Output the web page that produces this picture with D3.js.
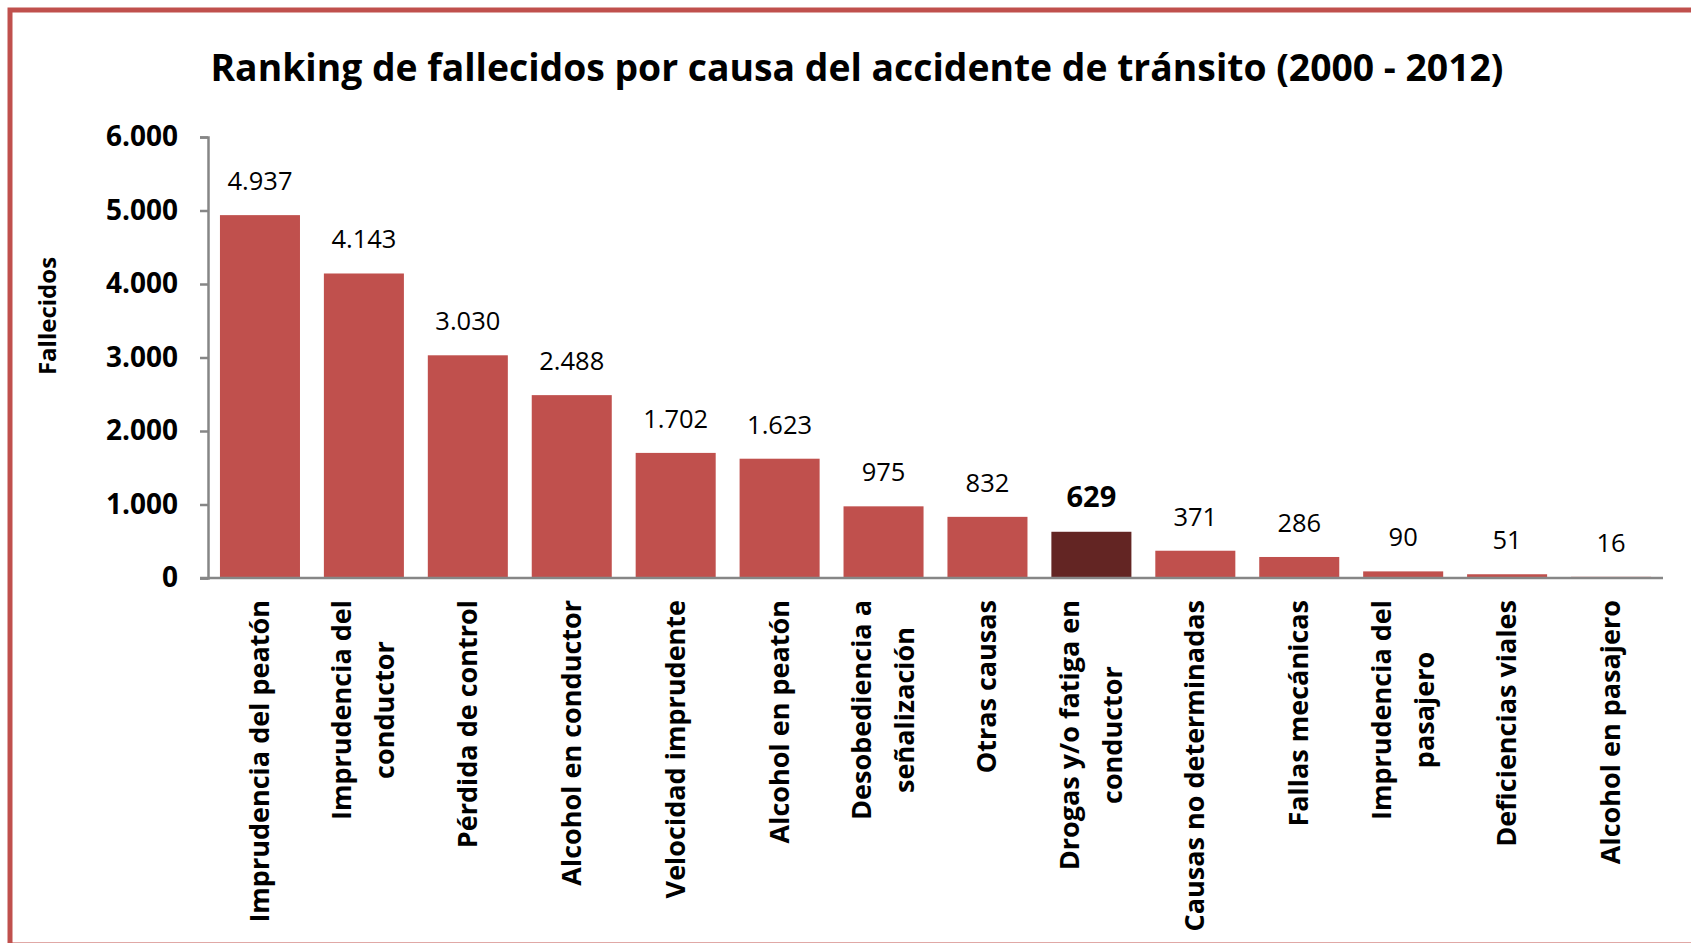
<!DOCTYPE html>
<html lang="es">
<head>
<meta charset="UTF-8" />
<script src="https://d3js.org/d3.v7.min.js"></script>
<style>
  body { margin: 0; background: #fff; }
  text { font-family: "Open Sans", "DejaVu Sans", sans-serif; }
</style>
</head>
<body>
<div id="chart"></div>
<script>
// data
var causas = [
  ["Imprudencia del peatón"],
  ["Imprudencia del", "conductor"],
  ["Pérdida de control"],
  ["Alcohol en conductor"],
  ["Velocidad imprudente"],
  ["Alcohol en peatón"],
  ["Desobediencia a", "señalización"],
  ["Otras causas"],
  ["Drogas y/o fatiga en", "conductor"],
  ["Causas no determinadas"],
  ["Fallas mecánicas"],
  ["Imprudencia del", "pasajero"],
  ["Deficiencias viales"],
  ["Alcohol en pasajero"]
];
var fallecidos = [4937, 4143, 3030, 2488, 1702, 1623, 975, 832, 629, 371, 286, 90, 51, 16];
var destacado = "Drogas y/o fatiga en conductor";
var yTicks = [0, 1000, 2000, 3000, 4000, 5000, 6000];

var width = 1691, height = 943;
var x0 = 208, x1 = 1663, yTop = 137, yBase = 578;

var loc = d3.formatLocale({decimal: ",", thousands: ".", grouping: [3], currency: ["", ""]});
var fmt = loc.format(",");

var keys = causas.map(function(c) { return c.join(" "); });

var svg = d3.select("#chart").append("svg")
  .attr("width", width)
  .attr("height", height);

// outer frame (right and bottom edges run off the page)
svg.append("rect")
  .attr("x", 10).attr("y", 10)
  .attr("width", 1720).attr("height", 935)
  .attr("fill", "none")
  .attr("stroke", "#c0504d")
  .attr("stroke-width", 5);

svg.append("text")
  .attr("x", 857).attr("y", 81)
  .attr("text-anchor", "middle")
  .style("font-size", "37.3px")
  .style("font-weight", "bold")
  .text("Ranking de fallecidos por causa del accidente de tránsito (2000 - 2012)");

var x = d3.scaleBand()
  .domain(keys)
  .range([x0, x1])
  .paddingInner(0.23)
  .paddingOuter(0.115);

var y = d3.scaleLinear()
  .domain([0, 6000])
  .range([yBase, yTop]);

// y axis
var yAxis = svg.append("g")
  .attr("transform", "translate(" + x0 + ",0)")
  .call(d3.axisLeft(y).tickValues(yTicks).tickSize(8).tickPadding(22).tickFormat(fmt));
yAxis.select(".domain").attr("stroke", "#868686").attr("stroke-width", 2.5);
yAxis.selectAll(".tick line").attr("stroke", "#868686").attr("stroke-width", 2.5);
yAxis.selectAll(".tick text")
  .attr("fill", "#000")
  .style("font-size", "28px")
  .style("font-weight", "bold")
  .style("font-family", "'Open Sans', sans-serif");

svg.append("text")
  .attr("transform", "translate(56,316) rotate(-90)")
  .attr("text-anchor", "middle")
  .style("font-size", "24px")
  .style("font-weight", "bold")
  .text("Fallecidos");

// bars
svg.selectAll(".bar")
  .data(fallecidos)
  .enter()
  .append("rect")
    .attr("class", "bar")
    .attr("x", function(d, i) { return x(keys[i]); })
    .attr("y", function(d) { return y(d); })
    .attr("width", x.bandwidth())
    .attr("height", function(d) { return yBase - y(d); })
    .attr("fill", function(d, i) { return keys[i] === destacado ? "#632523" : "#c0504d"; });

// x axis line
svg.append("line")
  .attr("x1", x0 - 8).attr("x2", x1)
  .attr("y1", yBase).attr("y2", yBase)
  .attr("stroke", "#868686")
  .attr("stroke-width", 2.5);

// value labels
svg.selectAll(".val")
  .data(fallecidos)
  .enter()
  .append("text")
    .attr("class", "val")
    .attr("x", function(d, i) { return x(keys[i]) + x.bandwidth() / 2; })
    .attr("y", function(d) { return y(d) - 25; })
    .attr("text-anchor", "middle")
    .style("font-size", function(d, i) { return keys[i] === destacado ? "29px" : "25.5px"; })
    .style("font-weight", function(d, i) { return keys[i] === destacado ? "bold" : "normal"; })
    .text(function(d) { return fmt(d); });

// category labels, rotated; longest line ends at the top, others centred on it
var labTop = 600, lineGap = 43;
causas.forEach(function(lines, i) {
  var cx = x(keys[i]) + x.bandwidth() / 2;
  var g = svg.append("g")
    .attr("transform", "translate(" + cx + "," + labTop + ") rotate(-90)");
  var n = lines.length;
  var texts = lines.map(function(l, j) {
    return g.append("text")
      .attr("y", (j - (n - 1) / 2) * lineGap + 9)
      .style("font-size", "27px")
      .style("font-weight", "bold")
      .text(l);
  });
  var maxLen = d3.max(texts, function(t) { return t.node().getComputedTextLength(); });
  texts.forEach(function(t) {
    t.attr("x", -maxLen / 2).attr("text-anchor", "middle");
  });
});
</script>
</body>
</html>
